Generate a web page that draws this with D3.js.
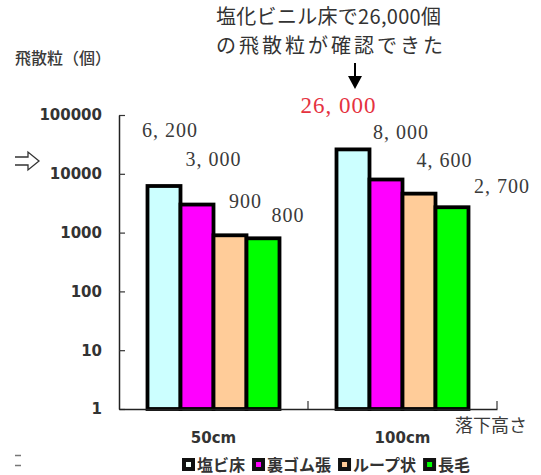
<!DOCTYPE html>
<html>
<head>
<meta charset="utf-8">
<script src="https://cdn.jsdelivr.net/npm/d3@7/dist/d3.min.js"></script>
<style>
  html, body { margin: 0; padding: 0; background: #fff; }
  svg { display: block; }
</style>
</head>
<body>
<script>
// Drop heights (categories) and floor materials (series)
const heights = ["50cm", "100cm"];
const materials = ["塩ビ床", "裏ゴム張", "ループ状", "長毛"];
const materialColors = ["#ccffff", "#ff00ff", "#ffcc99", "#00ff00"];

// Scattered particle counts per material, one array per drop height
const counts50 = [6200, 3000, 900, 800];
const counts100 = [26000, 8000, 4600, 2700];

// Value labels as printed above the bars
const labels50 = ["6, 200", "3, 000", "900", "800"];
const labels100 = ["26, 000", "8, 000", "4, 600", "2, 700"];

// Log axis tick values
const yTicks = [1, 10, 100, 1000, 10000, 100000];

const W = 541, H = 475;
const svg = d3.select("body").append("svg").attr("width", W).attr("height", H);

const y = d3.scaleLog().domain([1, 100000]).range([409, 115]);
const x0 = d3.scaleBand().domain(heights).range([119, 497]).padding(0);
const bw = x0.bandwidth();
const x1 = d3.scaleBand().domain(materials).range([bw / 2 - 66, bw / 2 + 66]).padding(0);
const color = d3.scaleOrdinal().domain(materials).range(materialColors);

const rows = [
  { h: heights[0], values: counts50, labels: labels50 },
  { h: heights[1], values: counts100, labels: labels100 }
];

// label offsets relative to (bar centre, bar top): staggered placement
const labelOffsets = [
  [[6, -49], [16.5, -38.6], [15.5, -27.3], [25, -16.3]],
  [[-14.5, -36.4], [15, -40.5], [25.5, -26.6], [50, -14.2]]
];

// Bars
rows.forEach((row, gi) => {
  const g = svg.append("g").attr("transform", `translate(${x0(row.h)},0)`);
  g.selectAll("rect").data(materials).join("rect")
    .attr("x", m => x1(m))
    .attr("y", (m, i) => y(row.values[i]))
    .attr("width", x1.bandwidth())
    .attr("height", (m, i) => y(1) - y(row.values[i]))
    .attr("fill", m => color(m))
    .attr("stroke", "#000")
    .attr("stroke-width", 3.8);

  g.selectAll("text.val").data(materials).join("text")
    .attr("class", "val")
    .attr("x", (m, i) => x1(m) + x1.bandwidth() / 2 + labelOffsets[gi][i][0])
    .attr("y", (m, i) => y(row.values[i]) + labelOffsets[gi][i][1])
    .attr("text-anchor", "middle")
    .attr("font-family", "'Liberation Serif', 'DejaVu Serif', serif")
    .attr("font-size", (m, i) => (gi === 1 && i === 0) ? 23 : 20)
    .attr("letter-spacing", 1)
    .attr("fill", (m, i) => (gi === 1 && i === 0) ? "#e5323f" : "#3a3a3a")
    .text((m, i) => row.labels[i]);
});

// Y axis (log)
const yAxis = d3.axisLeft(y)
  .tickValues(yTicks)
  .tickFormat(d3.format("d"))
  .tickSize(-6)
  .tickSizeOuter(0)
  .tickPadding(17);
const gy = svg.append("g").attr("transform", "translate(119,0)").call(yAxis);
gy.select(".domain").attr("stroke", "#222").attr("stroke-width", 1.5);
gy.selectAll(".tick line").attr("stroke", "#333").attr("stroke-width", 1.2);
gy.selectAll(".tick text")
  .attr("font-family", "'DejaVu Sans', sans-serif")
  .attr("font-weight", "bold")
  .attr("font-size", 15)
  .attr("fill", "#333");

// X axis
const xAxis = d3.axisBottom(x0).tickSize(0).tickSizeOuter(0).tickPadding(23);
const gx = svg.append("g").attr("transform", `translate(0,${y(1)})`).call(xAxis);
gx.select(".domain").attr("stroke", "#222").attr("stroke-width", 1.5);
gx.selectAll(".tick text")
  .attr("font-family", "'DejaVu Sans', sans-serif")
  .attr("font-weight", "bold")
  .attr("font-size", 15)
  .attr("fill", "#333");
// category boundary ticks
gx.selectAll("line.sep").data(heights).join("line")
  .attr("class", "sep")
  .attr("x1", d => x0(d) + bw).attr("x2", d => x0(d) + bw)
  .attr("y1", 0).attr("y2", -8)
  .attr("stroke", "#333").attr("stroke-width", 1.2);

// Axis titles
svg.append("text")
  .attr("x", 15).attr("y", 64)
  .attr("font-family", "'Noto Sans CJK JP', sans-serif")
  .attr("font-weight", 500)
  .attr("font-size", 16)
  .attr("fill", "#3a3a3a")
  .text("飛散粒（個）");

svg.append("text")
  .attr("x", 455).attr("y", 432)
  .attr("font-family", "'Noto Sans CJK JP', sans-serif")
  .attr("font-size", 18)
  .attr("fill", "#3a3a3a")
  .text("落下高さ");

// Hollow arrow pointing at the 10000 line
svg.append("path")
  .attr("d", "M15,157 L28,157 L28,152 L39,161 L28,170 L28,165 L15,165")
  .attr("fill", "#fff")
  .attr("stroke", "#333")
  .attr("stroke-width", 1.3)
  .attr("stroke-linejoin", "miter");

// Annotation on the highest bar
const annStyle = t => t
  .attr("font-family", "'Noto Sans CJK JP', sans-serif")
  .attr("font-size", 20)
  .attr("fill", "#333");
svg.append("text").call(annStyle)
  .attr("x", 216).attr("y", 23.5).attr("letter-spacing", 0.3)
  .text("塩化ビニル床で26,000個");
svg.append("text").call(annStyle)
  .attr("x", 216).attr("y", 53).attr("letter-spacing", 3)
  .text("の飛散粒が確認できた");

const ax = x0(heights[1]) + x1(materials[0]) + x1.bandwidth() / 2 + 2;
svg.append("line")
  .attr("x1", ax).attr("x2", ax).attr("y1", 63).attr("y2", 80)
  .attr("stroke", "#000").attr("stroke-width", 2);
svg.append("path")
  .attr("d", `M${ax - 7},76 L${ax + 7},76 L${ax},89 Z`)
  .attr("fill", "#000");

// Legend
const legend = svg.append("g").attr("transform", "translate(182,458)");
let lx = 0;
materials.forEach((m, i) => {
  const item = legend.append("g").attr("transform", `translate(${lx},0)`);
  item.append("rect").attr("x", 0).attr("y", 0).attr("width", 13).attr("height", 13).attr("fill", "#111");
  item.append("rect").attr("x", 4).attr("y", 4).attr("width", 5).attr("height", 5)
    .attr("fill", i === 0 ? "#f4fffa" : color(m));
  const t = item.append("text")
    .attr("x", 15).attr("y", 13)
    .attr("font-family", "'Noto Sans CJK JP', sans-serif")
    .attr("font-weight", "bold")
    .attr("font-size", 16)
    .attr("fill", "#333")
    .text(m);
  lx += 15 + t.node().getComputedTextLength() + 7;
});

// small cut-off mark at the lower left edge
svg.append("line").attr("x1", 15).attr("x2", 21).attr("y1", 455.5).attr("y2", 455.5).attr("stroke", "#777").attr("stroke-width", 1.5);
svg.append("line").attr("x1", 15).attr("x2", 21).attr("y1", 465.5).attr("y2", 465.5).attr("stroke", "#777").attr("stroke-width", 1.5);
</script>
</body>
</html>
